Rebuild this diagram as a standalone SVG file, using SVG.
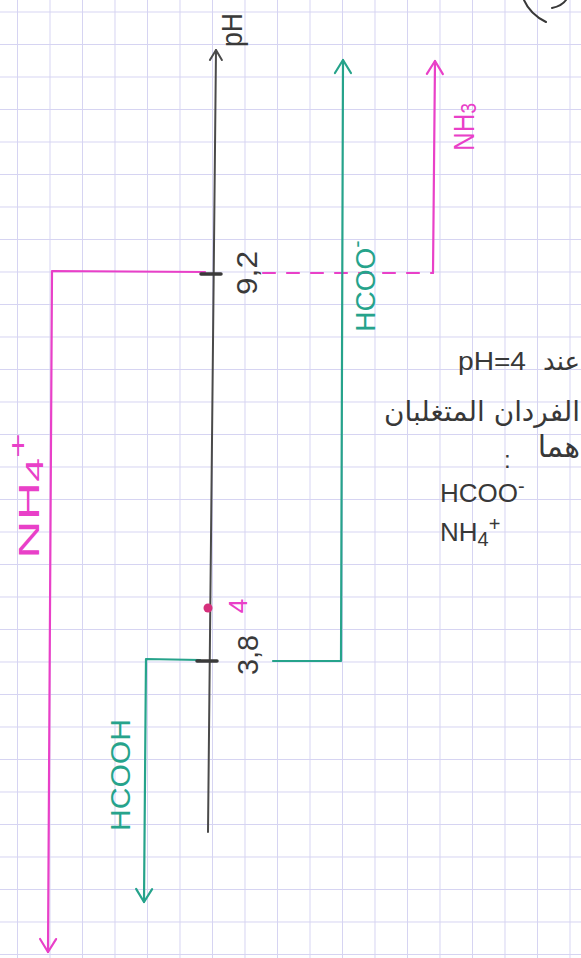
<svg xmlns="http://www.w3.org/2000/svg" width="581" height="958" viewBox="0 0 581 958">
<defs>
<style>
.mag{stroke:#e940c8;stroke-width:2.2;fill:none;stroke-linecap:round;stroke-linejoin:round}
.teal{stroke:#26a38b;stroke-width:2.2;fill:none;stroke-linecap:round;stroke-linejoin:round}
.axis{stroke:#4a4a4a;stroke-width:2;fill:none;stroke-linecap:round}
.tick{stroke:#3a3a3a;stroke-width:3.5;fill:none;stroke-linecap:round}
.lbl{font-family:"Liberation Sans","DejaVu Sans",sans-serif;dominant-baseline:central;text-anchor:middle}
.ar{font-family:"DejaVu Sans",sans-serif;fill:#383838}
.en{font-family:"Liberation Sans","DejaVu Sans",sans-serif;fill:#383838}
.tm{fill:#e940c8}
.tt{fill:#26a38b}
.tg{fill:#3a3a3a}
</style>
<pattern id="grid" width="32.5" height="32.5" patternUnits="userSpaceOnUse" x="17" y="11.5">
<path d="M0 0.5H32.5M0.5 0V32.5" stroke="#d6d4f2" stroke-width="1" fill="none"/>
</pattern>
<marker id="aM" markerUnits="userSpaceOnUse" markerWidth="30" markerHeight="30" refX="15" refY="15" orient="auto" overflow="visible">
<path d="M2 7 L15 15 L2 23" stroke="#e940c8" stroke-width="2.2" fill="none" stroke-linecap="round" stroke-linejoin="round"/>
</marker>
<marker id="aT" markerUnits="userSpaceOnUse" markerWidth="30" markerHeight="30" refX="15" refY="15" orient="auto" overflow="visible">
<path d="M2 7 L15 15 L2 23" stroke="#26a38b" stroke-width="2.2" fill="none" stroke-linecap="round" stroke-linejoin="round"/>
</marker>
<marker id="aG" markerUnits="userSpaceOnUse" markerWidth="30" markerHeight="30" refX="15" refY="15" orient="auto" overflow="visible">
<path d="M5 9 L15 15 L5 21" stroke="#4a4a4a" stroke-width="2" fill="none" stroke-linecap="round" stroke-linejoin="round"/>
</marker>
</defs>
<rect width="581" height="958" fill="#ffffff"/>
<rect width="581" height="958" fill="url(#grid)"/>

<g id="connectors">
<path class="axis" d="M208 832 L216 50" marker-end="url(#aG)"/>
<path class="mag" d="M205 272 L52 271 L48 952" marker-end="url(#aM)"/>
<path class="mag" d="M263 273 L433 273" stroke-dasharray="12 12"/>
<path class="mag" d="M433 273 L435 61" marker-end="url(#aM)"/>
<path class="teal" d="M273 661 L341 661 L343 60" marker-end="url(#aT)"/>
<path class="teal" d="M200 660 L146 659 L144 902" marker-end="url(#aT)"/>
<path class="tick" d="M201 274 H221"/>
<path class="tick" d="M197 661 H217"/>
<circle cx="208" cy="608" r="4.5" fill="#d6307c"/>
</g>

<g id="axis-label">
<text class="lbl tg" font-size="30" textLength="34" lengthAdjust="spacingAndGlyphs" transform="translate(231 30) rotate(-90)">pH</text>
</g>
<g id="pka-92">
<text class="lbl tg" font-size="30" textLength="44" lengthAdjust="spacingAndGlyphs" transform="translate(246 273) rotate(-90)">9,2</text>
</g>
<g id="pka-38">
<text class="lbl tg" font-size="30" textLength="40" lengthAdjust="spacingAndGlyphs" transform="translate(247 655) rotate(-90)">3,8</text>
</g>
<g id="ph4">
<text class="lbl tm" font-size="26" transform="translate(238 606) rotate(-90)">4</text>
</g>
<g id="nh3">
<text class="lbl tm" font-size="30" textLength="48" lengthAdjust="spacingAndGlyphs" transform="translate(463 127) rotate(-90)">NH<tspan font-size="22" baseline-shift="-5">3</tspan></text>
</g>
<g id="hcoo">
<text class="lbl tt" font-size="28" transform="translate(365 286) rotate(-90)">HCOO<tspan font-size="22" baseline-shift="9">-</tspan></text>
</g>
<g id="hcooh">
<text class="lbl tt" font-size="28" textLength="112" lengthAdjust="spacingAndGlyphs" transform="translate(120 775) rotate(-90)">HCOOH</text>
</g>
<g id="nh4">
<text class="lbl tm" font-size="30" textLength="126" lengthAdjust="spacingAndGlyphs" transform="translate(28 496) rotate(-90)">NH<tspan font-size="24" baseline-shift="-6">4</tspan><tspan font-size="24" baseline-shift="11">+</tspan></text>
</g>

<g id="annotation">
<text class="ar" font-size="26" x="580" y="370" text-anchor="end">عند</text>
<text class="en" font-size="26" x="458" y="370" textLength="68" lengthAdjust="spacingAndGlyphs">pH=4</text>
<text class="ar" font-size="28" x="580" y="421" text-anchor="end" textLength="196" lengthAdjust="spacingAndGlyphs">الفردان المتغلبان</text>
<text class="ar" font-size="30" x="580" y="457" text-anchor="end">هما</text>
<text class="en" font-size="24" x="504" y="468">:</text>
<text class="en" font-size="26" x="440" y="502">HCOO<tspan font-size="20" baseline-shift="9">-</tspan></text>
<text class="en" font-size="26" x="440" y="541">NH<tspan font-size="20" baseline-shift="-5">4</tspan><tspan font-size="20" baseline-shift="10">+</tspan></text>
<path d="M524 0 Q530 14 546 22 M552 8 Q562 6 566 0" stroke="#383838" stroke-width="2" fill="none" stroke-linecap="round"/>
</g>
</svg>
